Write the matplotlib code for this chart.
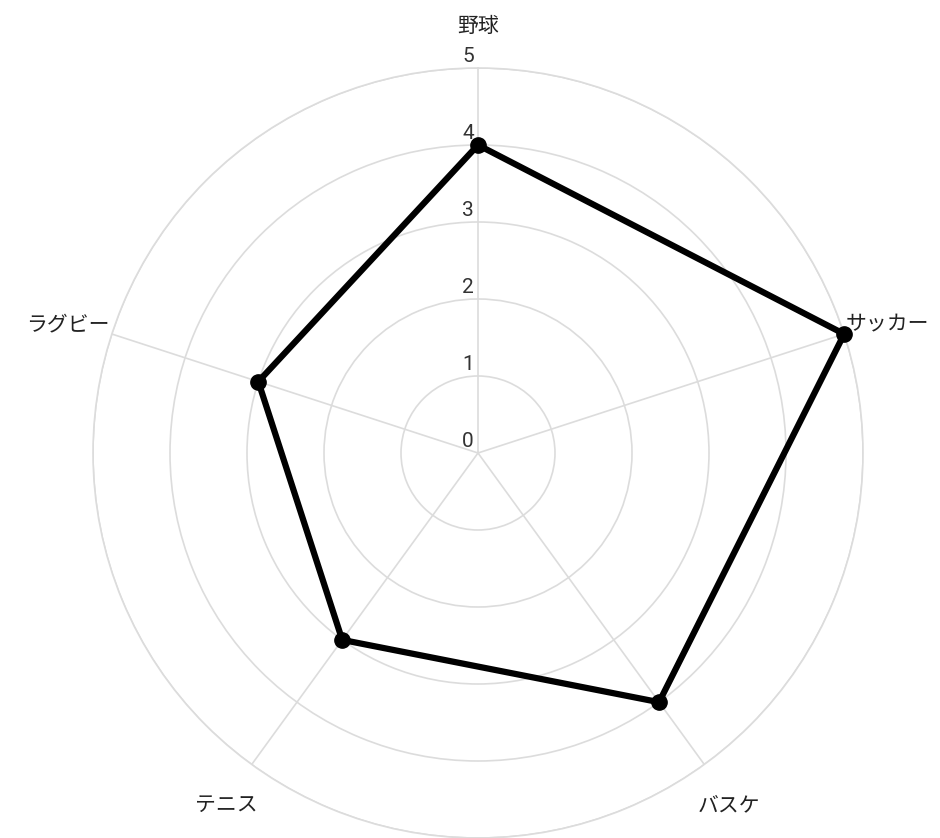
import numpy as np
import matplotlib
matplotlib.use("Agg")
import matplotlib.pyplot as plt

categories = ["野球", "サッカー", "バスケ", "テニス", "ラグビー"]
values = [4, 5, 4, 3, 3]
tick_values = [0, 1, 2, 3, 4, 5]

W, H = 940, 838
fig = plt.figure(figsize=(W / 100, H / 100), dpi=100)
cx, cy, R = 478, 453, 385
ax = fig.add_axes([(cx - R) / W, (H - cy - R) / H, 2 * R / W, 2 * R / H], projection="polar")
ax.set_theta_zero_location("N")
ax.set_theta_direction(-1)
ax.set_ylim(0, 5)

n = len(categories)
angles = np.arange(n) * 2 * np.pi / n

grid_color = "#dcdcdc"
ax.set_xticks(angles)
ax.set_xticklabels([])
ax.set_yticks(tick_values[1:])
ax.set_yticklabels([])
ax.grid(True, color=grid_color, linewidth=1.2)
ax.spines["polar"].set_color(grid_color)
ax.spines["polar"].set_linewidth(1.2)
ax.tick_params(length=0)

closed_a = np.concatenate([angles, angles[:1]])
closed_v = values + values[:1]
ax.plot(closed_a, closed_v, color="black", linewidth=4.5, solid_joinstyle="miter", zorder=5, clip_on=False)
ax.plot(angles, values, "o", color="black", markersize=11, zorder=6, clip_on=False)

jp = ["Noto Sans CJK JP", "DejaVu Sans"]
label_offsets = [
    (0, 42, "center", "center"),
    (1, 11, "left", "center"),
    (-7, -41, "left", "center"),
    (6, -40, "right", "center"),
    (-2, 10, "right", "center"),
]
for a, lab, (dx, dy, ha, va) in zip(angles, categories, label_offsets):
    ax.annotate(lab, xy=(a, 5), xytext=(dx, dy), textcoords="offset pixels",
                ha=ha, va=va, fontsize=15, family=jp, color="#222222",
                annotation_clip=False)

for t in tick_values:
    ax.annotate(str(t), xy=(0, t), xytext=(-10, 12), textcoords="offset pixels",
                ha="center", va="center", fontsize=15, family=["Roboto", "DejaVu Sans"],
                color="#333333", annotation_clip=False, zorder=4)

fig.savefig("out.png", dpi=100)
